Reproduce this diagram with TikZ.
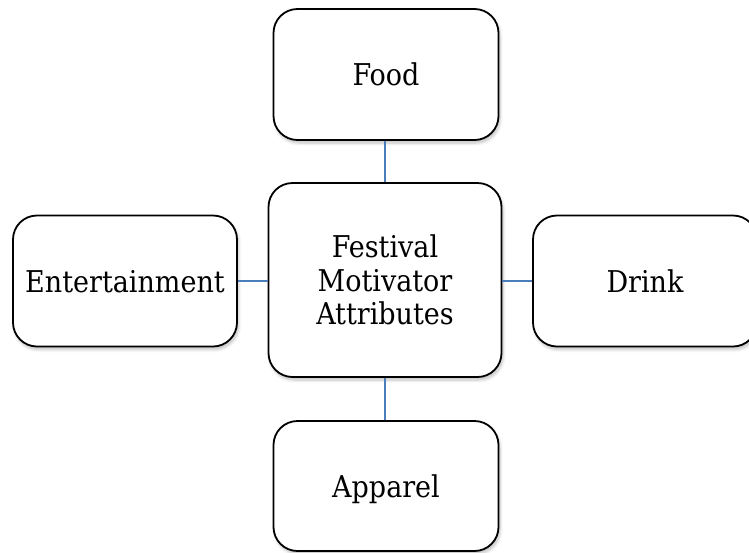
\documentclass[tikz,border=0pt]{standalone}
\usepackage{fontspec}
\setmainfont{DejaVu Serif Condensed}
\usetikzlibrary{shadows.blur}
\definecolor{linkblue}{HTML}{4A7EBB}
\tikzset{
  attrbox/.style={draw=black, line width=1.8pt, rounded corners=24pt, fill=white,
    blur shadow={shadow xshift=1.5pt, shadow yshift=-3pt, shadow opacity=25, shadow blur steps=6, shadow blur radius=3pt},
    font=\fontsize{30}{33.5}\selectfont, align=center, inner sep=0pt, text depth=0pt},
  link/.style={draw=linkblue, line width=1.6pt}
}
\begin{document}
\begin{tikzpicture}[x=1pt, y=-1pt]
  \useasboundingbox (0,0) rectangle (749,552);
  % central concept and the four attributes around it
  \node[attrbox, minimum width=233pt, minimum height=194pt] (hub) at (385,280) {Festival\\Motivator\\Attributes};
  \node[attrbox, minimum width=225pt, minimum height=131pt] (food) at (386,74.5) {Food};
  \node[attrbox, minimum width=224pt, minimum height=131pt] (ent) at (125,281) {Entertainment};
  \node[attrbox, minimum width=224pt, minimum height=131pt] (drink) at (645,281) {Drink};
  \node[attrbox, minimum width=225pt, minimum height=130pt] (app) at (386,486) {Apparel};
  % connectors
  \draw[link] (food.south -| hub.north) -- (hub.north);
  \draw[link] (hub.south) -- (hub.south |- app.north);
  \draw[link] (ent.east) -- (ent.east -| hub.west);
  \draw[link] (hub.east |- drink.west) -- (drink.west);
\end{tikzpicture}
\end{document}
